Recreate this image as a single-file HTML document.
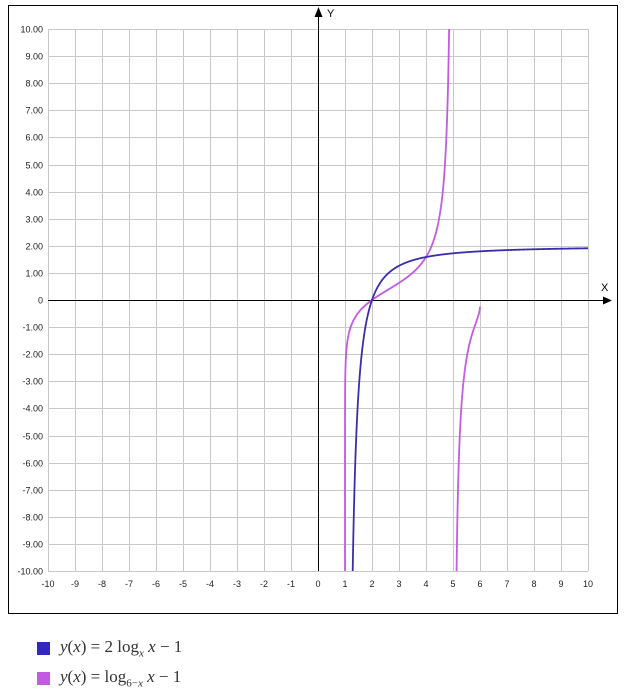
<!DOCTYPE html>
<html><head><meta charset="utf-8"><style>
body{margin:0;background:#fff;width:635px;height:694px;overflow:hidden;font-family:"Liberation Sans",sans-serif}
.lg{position:absolute;left:37px;font-family:"Liberation Serif",serif;font-size:17px;color:#333}
.lg i{font-style:italic}
.sq{display:inline-block;width:13px;height:13px;vertical-align:middle;margin-right:10px}
</style></head><body>
<svg id="s" width="635" height="694" style="position:absolute;left:0;top:0" font-family="Liberation Sans, sans-serif">
<defs><clipPath id="cp"><rect x="40" y="29" width="560" height="542"/></clipPath></defs>
<rect x="8.5" y="5.5" width="609" height="608" fill="#fff" stroke="#000" stroke-width="1"/>
<g id="grid" stroke="#c8c8c8" stroke-width="1"></g>
<g id="lab" font-size="9" fill="#222"></g>
<line x1="48" y1="300.5" x2="606" y2="300.5" stroke="#000"/>
<polygon points="612,300.5 603,296.5 603,304.5" fill="#000"/>
<line x1="318.5" y1="571" x2="318.5" y2="14" stroke="#000"/>
<polygon points="318.5,7 314.5,17 322.5,17" fill="#000"/>
<text x="327" y="17" font-size="11">Y</text>
<text x="601" y="291" font-size="11">X</text>
<g clip-path="url(#cp)">
<path id="c2" fill="none" stroke="#c25be0" stroke-width="1.8"/>
<path id="c1" fill="none" stroke="#3a2ea8" stroke-width="1.8"/>
</g>
</svg>
<div class="lg" style="top:637px"><span class="sq" style="background:#3227c0"></span><i>y</i>(<i>x</i>) = 2 log<sub style="font-size:11px"><i>x</i></sub> <i>x</i> − 1</div>
<div class="lg" style="top:667px"><span class="sq" style="background:#c25be0"></span><i>y</i>(<i>x</i>) = log<sub style="font-size:11px">6−<i>x</i></sub> <i>x</i> − 1</div>
<script>
var X=function(x){return 318+27*x},Y=function(y){return 300-27.1*y};
var g=document.getElementById('grid'),l=document.getElementById('lab'),ns='http://www.w3.org/2000/svg';
function el(p,t,a,txt){var e=document.createElementNS(ns,t);for(var k in a)e.setAttribute(k,a[k]);if(txt!=null)e.textContent=txt;p.appendChild(e);}
for(var i=-10;i<=10;i++){
 var px=Math.round(X(i))+0.5,py=Math.round(Y(i))+0.5;
 el(g,'line',{x1:px,y1:29,x2:px,y2:571});
 el(g,'line',{x1:48,y1:py,x2:588,y2:py});
 el(l,'text',{x:X(i),y:587,'text-anchor':'middle'},String(i));
 el(l,'text',{x:43,y:py+3,'text-anchor':'end'},i==0?'0':i.toFixed(2));
}
function pts(a,b,n,lo,hi){var s=[];for(var k=0;k<=n;k++)s.push(a+(b-a)*k/n);
 for(var k=0;k<=1500;k++){var e=Math.pow(10,-k/60);if(lo)s.push(a+e*(b-a)*0.1);if(hi)s.push(b-e*(b-a)*0.1);}
 s=s.filter(function(x){return x>a&&x<b;});s.sort(function(p,q){return p-q});return s;}
function path(f,xs){var d='',pen=false;for(var k=0;k<xs.length;k++){var x=xs[k],y=f(x);
 if(!isFinite(y)||y>13||y<-13){pen=false;continue;}
 d+=(pen?'L':'M')+X(x).toFixed(2)+' '+Y(y).toFixed(2);pen=true;}return d;}
document.getElementById('c1').setAttribute('d',path(function(x){return 2*Math.log(x-1)/Math.log(x)},pts(1,10,4000,true,false)));
var f2=function(x){return Math.log(x-1)/Math.log(6-x)};
document.getElementById('c2').setAttribute('d',path(f2,pts(1,5,4000,true,true))+path(f2,pts(5,5.999,2000,true,false)));
</script>
</body></html>
